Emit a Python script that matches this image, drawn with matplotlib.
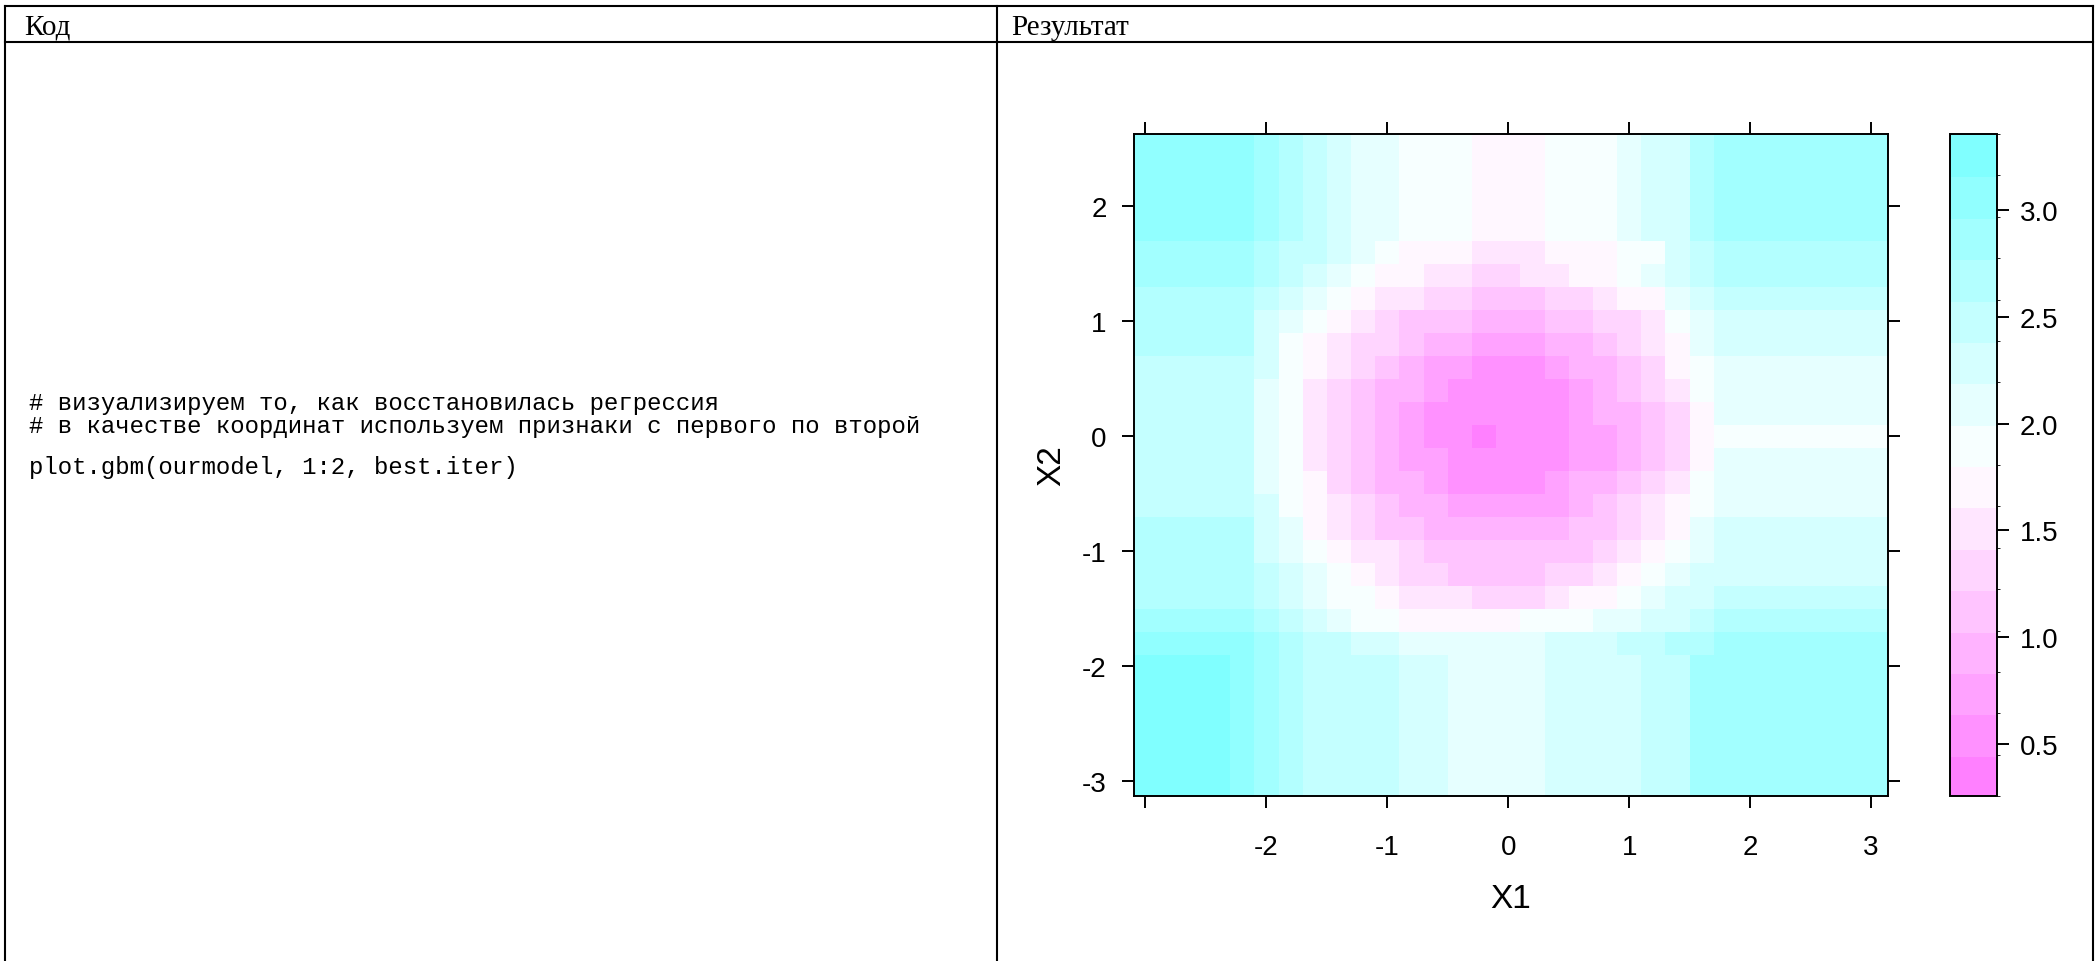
import numpy as np
import matplotlib
matplotlib.use("Agg")
from matplotlib import pyplot as plt
from matplotlib.colors import LinearSegmentedColormap, ListedColormap, BoundaryNorm
from matplotlib.lines import Line2D

plt.rcParams['font.family'] = ['Liberation Sans', 'DejaVu Sans']

W, H = 2100, 962

# grid of the partial dependence
x1_grid = np.round(np.arange(-3.0, 3.01, 0.2), 1)     # 31 columns
x2_grid = np.round(np.arange(2.6, -3.01, -0.2), 1)    # 29 rows, top to bottom

# rows X2 = 2.6 .. 1.8 and X2 = -2.0 .. -3.0 only change along X1
top_profile = [3.1, 3.1, 3.1, 3.1, 3.1, 2.9, 2.7, 2.5, 2.3, 2.1, 2.1, 1.9, 1.9, 1.9, 1.7, 1.7,
               1.7, 1.9, 1.9, 1.9, 2.1, 2.3, 2.3, 2.7, 2.9, 2.9, 2.9, 2.9, 2.9, 2.9, 2.9]
bottom_profile = [3.3, 3.3, 3.3, 3.3, 3.1, 2.9, 2.7, 2.5, 2.5, 2.5, 2.5, 2.3, 2.3, 2.1, 2.1, 2.1,
                  2.1, 2.3, 2.3, 2.3, 2.3, 2.5, 2.5, 2.9, 2.9, 2.9, 2.9, 2.9, 2.9, 2.9, 2.9]

# rows X2 = 1.6 .. -1.8: flat left of X1 = -2.1 and right of X1 = 1.7
left_edge = [2.9, 2.9, 2.7, 2.7, 2.7, 2.5, 2.5, 2.5, 2.5, 2.5, 2.5, 2.5, 2.7, 2.7, 2.7, 2.7, 2.9, 3.1]
right_edge = [2.7, 2.7, 2.5, 2.3, 2.3, 2.1, 2.1, 2.1, 1.9, 2.1, 2.1, 2.1, 2.3, 2.3, 2.3, 2.5, 2.7, 2.9]

# X1 = -2.0 .. 1.6
middle = [
    [2.7, 2.5, 2.5, 2.3, 2.1, 1.9, 1.7, 1.7, 1.7, 1.5, 1.5, 1.5, 1.7, 1.7, 1.7, 1.9, 1.9, 2.3, 2.5],
    [2.7, 2.5, 2.3, 2.1, 1.9, 1.7, 1.7, 1.5, 1.5, 1.3, 1.3, 1.5, 1.5, 1.7, 1.7, 1.9, 2.1, 2.3, 2.5],
    [2.5, 2.3, 2.1, 1.9, 1.7, 1.5, 1.5, 1.3, 1.3, 1.1, 1.1, 1.1, 1.3, 1.3, 1.5, 1.7, 1.7, 2.1, 2.3],
    [2.3, 2.1, 1.9, 1.7, 1.5, 1.3, 1.1, 1.1, 1.1, 0.9, 0.9, 0.9, 1.1, 1.1, 1.3, 1.3, 1.5, 1.9, 2.1],
    [2.3, 1.9, 1.7, 1.5, 1.3, 1.3, 1.1, 0.9, 0.9, 0.7, 0.7, 0.7, 0.9, 0.9, 1.1, 1.3, 1.5, 1.7, 2.1],
    [2.3, 1.9, 1.7, 1.5, 1.3, 1.1, 0.9, 0.7, 0.7, 0.6, 0.6, 0.6, 0.7, 0.9, 0.9, 1.1, 1.3, 1.7, 1.9],
    [2.1, 1.9, 1.5, 1.3, 1.1, 0.9, 0.9, 0.7, 0.6, 0.6, 0.6, 0.6, 0.6, 0.7, 0.9, 1.1, 1.3, 1.5, 1.9],
    [2.1, 1.9, 1.5, 1.3, 1.1, 0.9, 0.7, 0.6, 0.6, 0.6, 0.6, 0.6, 0.6, 0.7, 0.9, 0.9, 1.1, 1.3, 1.7],
    [2.1, 1.9, 1.5, 1.3, 1.1, 0.9, 0.7, 0.6, 0.6, 0.4, 0.6, 0.6, 0.6, 0.7, 0.7, 0.9, 1.1, 1.3, 1.7],
    [2.1, 1.9, 1.5, 1.3, 1.1, 0.9, 0.7, 0.7, 0.6, 0.6, 0.6, 0.6, 0.6, 0.7, 0.7, 0.9, 1.1, 1.3, 1.7],
    [2.1, 1.9, 1.7, 1.3, 1.1, 0.9, 0.9, 0.7, 0.6, 0.6, 0.6, 0.6, 0.7, 0.9, 0.9, 1.1, 1.3, 1.5, 1.9],
    [2.3, 1.9, 1.7, 1.5, 1.3, 1.1, 0.9, 0.9, 0.7, 0.7, 0.7, 0.7, 0.7, 0.9, 1.1, 1.3, 1.5, 1.7, 1.9],
    [2.3, 2.1, 1.7, 1.5, 1.3, 1.1, 1.1, 0.9, 0.9, 0.9, 0.9, 0.9, 0.9, 1.1, 1.1, 1.3, 1.5, 1.7, 2.1],
    [2.3, 2.1, 1.9, 1.7, 1.5, 1.5, 1.3, 1.1, 1.1, 1.1, 1.1, 1.1, 1.1, 1.1, 1.3, 1.5, 1.7, 1.9, 2.1],
    [2.5, 2.3, 2.1, 1.9, 1.7, 1.5, 1.3, 1.3, 1.1, 1.1, 1.1, 1.1, 1.3, 1.3, 1.5, 1.7, 1.9, 2.1, 2.3],
    [2.5, 2.3, 2.1, 1.9, 1.9, 1.7, 1.5, 1.5, 1.5, 1.3, 1.3, 1.3, 1.5, 1.7, 1.7, 1.9, 2.1, 2.3, 2.3],
    [2.7, 2.5, 2.3, 2.1, 1.9, 1.9, 1.7, 1.7, 1.7, 1.7, 1.7, 1.9, 1.9, 1.9, 2.1, 2.1, 2.3, 2.3, 2.5],
    [2.9, 2.7, 2.5, 2.5, 2.3, 2.3, 2.1, 2.1, 2.1, 2.1, 2.1, 2.1, 2.3, 2.3, 2.3, 2.5, 2.5, 2.7, 2.7],
]

pd_rows = [top_profile] * 5
for l, mid, r in zip(left_edge, middle, right_edge):
    pd_rows.append([l] * 5 + mid + [r] * 7)
pd_rows += [bottom_profile] * 6
z = np.array(pd_rows)

z_range = (0.255, 3.357)
n_cuts = 16
x_lim = (-3.095, 3.14)
y_lim = (-3.13, 2.63)

code_lines = [
    "# визуализируем то, как восстановилась регрессия",
    "# в качестве координат используем признаки с первого по второй",
    "plot.gbm(ourmodel, 1:2, best.iter)",
]


def fx(px):
    return px / W


def fy(py):
    return 1 - py / H


fig = plt.figure(figsize=(W / 100, H / 100), dpi=100)

# table frame
for xs, ys in [((5, 2093), (7, 7)), ((5, 2093), (43, 43)),
               ((5, 5), (7, H)), ((997, 997), (7, H)), ((2093, 2093), (7, H))]:
    fig.add_artist(Line2D([fx(xs[0]), fx(xs[1])], [fy(ys[0]), fy(ys[1])],
                          transform=fig.transFigure, color='black', lw=1.5))

fig.text(fx(24), fy(35), "Код", fontfamily='Liberation Serif', fontsize=21, va='baseline')
fig.text(fx(1011), fy(35), "Результат", fontfamily='Liberation Serif', fontsize=21, va='baseline')

for txt, base in zip(code_lines, [410, 433, 474]):
    fig.text(fx(29), fy(base), txt, fontfamily='Liberation Mono', fontsize=17.3, va='baseline')

# level plot
ramp = LinearSegmentedColormap.from_list('pd', ['#FF80FF', '#FFFFFF', '#80FFFF'])
cmap = ListedColormap(ramp(np.linspace(0, 1, n_cuts)))
levels = np.linspace(z_range[0], z_range[1], n_cuts + 1)
norm = BoundaryNorm(levels, cmap.N)

ax = fig.add_axes([fx(1134), fy(797), fx(1888) - fx(1134), fy(135) - fy(797)])
x_edges = np.concatenate([[x_lim[0]], (x1_grid[:-1] + x1_grid[1:]) / 2, [x_lim[1]]])
y_edges = np.concatenate([[y_lim[1]], (x2_grid[:-1] + x2_grid[1:]) / 2, [y_lim[0]]])
mesh = ax.pcolormesh(x_edges, y_edges, z, cmap=cmap, norm=norm, shading='flat',
                     antialiased=False, linewidth=0)
ax.set_xlim(x_lim)
ax.set_ylim(y_lim)
ax.set_xticks(range(-3, 4))
ax.set_xticklabels(['', '-2', '-1', '0', '1', '2', '3'])
ax.set_yticks(range(-3, 3))
ax.set_yticklabels(['-3', '-2', '-1', '0', '1', '2'])
ax.tick_params(direction='out', length=8.6, width=1.4, top=True, right=True,
               labelsize=20, colors='black')
ax.tick_params(axis='x', pad=19)
ax.tick_params(axis='y', pad=11)
for sp in ax.spines.values():
    sp.set_linewidth(1.4)

fig.text(fx(1511), fy(900), 'X1', ha='center', va='center', fontsize=24)
fig.text(fx(1052), fy(466), 'X2', ha='center', va='center', fontsize=24, rotation=90)

cax = fig.add_axes([fx(1950), fy(797), fx(1997) - fx(1950), fy(135) - fy(797)])
cb = fig.colorbar(mesh, cax=cax, ticks=[0.5, 1.0, 1.5, 2.0, 2.5, 3.0])
cb.ax.set_yticklabels(['0.5', '1.0', '1.5', '2.0', '2.5', '3.0'])
cb.solids.set_edgecolor('face')
cb.outline.set_linewidth(1.4)
cax.tick_params(length=8.6, width=1.4, labelsize=20, pad=8)

fig.savefig('out.png', dpi=100)
